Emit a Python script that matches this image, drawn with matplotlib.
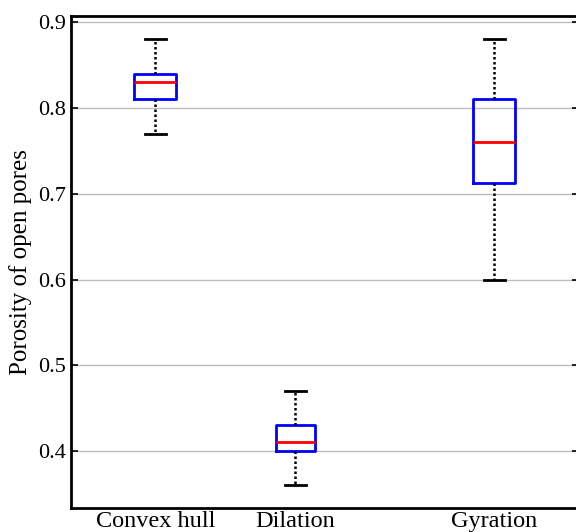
import matplotlib
matplotlib.use("Agg")
import matplotlib.pyplot as plt

plt.rcParams['font.family'] = ['Liberation Serif', 'DejaVu Serif']

methods = ['Convex hull', 'Dilation', 'Gyration']
whislo = [0.77, 0.36, 0.60]
q1 = [0.81, 0.40, 0.713]
med = [0.83, 0.41, 0.76]
q3 = [0.84, 0.43, 0.81]
whishi = [0.88, 0.47, 0.88]
positions = [1, 1.826, 3]
yticks = [0.4, 0.5, 0.6, 0.7, 0.8, 0.9]

stats = []
for i in range(len(methods)):
    stats.append({'label': methods[i], 'whislo': whislo[i], 'q1': q1[i], 'med': med[i],
                  'q3': q3[i], 'whishi': whishi[i], 'fliers': []})

fig = plt.figure(figsize=(5.76, 5.32), dpi=100)
ax = fig.add_axes([70.5/576, 1-508/532, (579-70.5)/576, 492/532])

ax.bxp(stats, positions=positions, widths=[0.25, 0.23, 0.25], capwidths=0.125,
       showfliers=False, manage_ticks=False,
       boxprops=dict(color='blue', linewidth=2),
       medianprops=dict(color='red', linewidth=2),
       whiskerprops=dict(color='black', linewidth=1.8, linestyle=(0, (1, 1))),
       capprops=dict(color='black', linewidth=2))

ax.set_xlim(0.5, 3.5)
ax.set_ylim(0.3336, 0.9073)
ax.set_yticks(yticks)
ax.set_yticklabels(['%.1f' % t for t in yticks])
ax.set_xticks(positions)
ax.set_xticklabels(methods, fontsize=17.5)
ax.yaxis.grid(True, color='#bdbdbd', linewidth=1)
ax.set_axisbelow(True)
ax.tick_params(axis='y', direction='in', length=5, width=1.2, right=True, labelsize=16, pad=3)
ax.tick_params(axis='x', length=0, pad=2)
for s in ax.spines.values():
    s.set_linewidth(2)
ax.set_ylabel('Porosity of open pores', fontsize=18, labelpad=5)

fig.savefig('out.png', dpi=100)
